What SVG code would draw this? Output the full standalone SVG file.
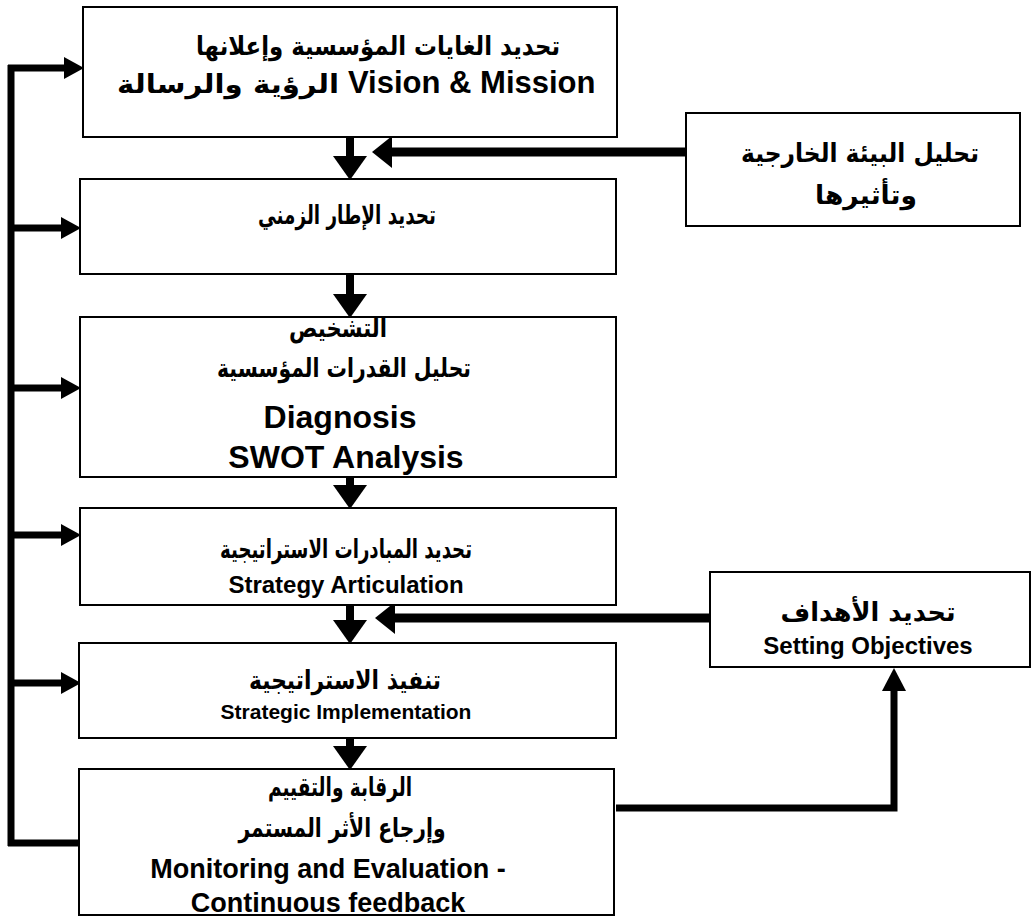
<svg xmlns="http://www.w3.org/2000/svg" width="1034" height="917" viewBox="0 0 1034 917">
  <defs>
    <style>
      .box { fill: #ffffff; stroke: #000000; stroke-width: 2; }
      .wire { fill: none; stroke: #000000; stroke-linecap: butt; stroke-linejoin: miter; }
      .ar { font-family: "DejaVu Sans", "Noto Sans", sans-serif; font-weight: bold; font-size: 26px; fill: #000; text-anchor: middle; }
      .en { font-family: "Liberation Sans", Arial, sans-serif; font-weight: bold; fill: #000; text-anchor: middle; }
      .lead { text-anchor: start; }
      .big { font-size: 32px; }
      .mid { font-size: 24px; }
      .small { font-size: 21px; }
      .large { font-size: 27px; }
    </style>
    <!-- arrowheads; the shaft stops one unit inside the head -->
    <marker id="headLoop" markerUnits="userSpaceOnUse" viewBox="0 0 20 22" markerWidth="20" markerHeight="22" refX="1" refY="11" orient="auto">
      <path d="M0,0 L20,11 L0,22 Z" fill="#000"/>
    </marker>
    <marker id="headDown" markerUnits="userSpaceOnUse" viewBox="0 0 24 34" markerWidth="24" markerHeight="34" refX="1" refY="17" orient="auto">
      <path d="M0,0 L24,17 L0,34 Z" fill="#000"/>
    </marker>
    <marker id="headSide" markerUnits="userSpaceOnUse" viewBox="0 0 20 32" markerWidth="20" markerHeight="32" refX="1" refY="16" orient="auto">
      <path d="M0,0 L20,16 L0,32 Z" fill="#000"/>
    </marker>
    <marker id="headUp" markerUnits="userSpaceOnUse" viewBox="0 0 23 24" markerWidth="23" markerHeight="24" refX="1" refY="12" orient="auto">
      <path d="M0,0 L23,12 L0,24 Z" fill="#000"/>
    </marker>
  </defs>

  <rect width="1034" height="917" fill="#ffffff"/>

  <!-- connectors -->
  <g id="connectors" class="wire" stroke="#000">
    <!-- feedback loop down the left side -->
    <path d="M11,65 V846" stroke-width="7"/>
    <path d="M8,843 H84" stroke-width="7"/>
    <path d="M8,68 H65" stroke-width="7" marker-end="url(#headLoop)"/>
    <path d="M8,228 H62" stroke-width="7" marker-end="url(#headLoop)"/>
    <path d="M8,388 H62" stroke-width="7" marker-end="url(#headLoop)"/>
    <path d="M8,535 H62" stroke-width="7" marker-end="url(#headLoop)"/>
    <path d="M8,683 H62" stroke-width="7" marker-end="url(#headLoop)"/>

    <!-- main flow, top to bottom -->
    <path d="M350,137 V157" stroke-width="8" marker-end="url(#headDown)"/>
    <path d="M350,274 V295" stroke-width="8" marker-end="url(#headDown)"/>
    <path d="M350,477 V486" stroke-width="8" marker-end="url(#headDown)"/>
    <path d="M350,605 V621" stroke-width="8" marker-end="url(#headDown)"/>
    <path d="M350,738 V747" stroke-width="8" marker-end="url(#headDown)"/>

    <!-- side inputs -->
    <path d="M687,152 H391" stroke-width="9" marker-end="url(#headSide)"/>
    <path d="M711,618 H394" stroke-width="9" marker-end="url(#headSide)"/>

    <!-- monitoring back to objectives -->
    <path d="M616,808 H894 V690" stroke-width="7" marker-end="url(#headUp)"/>
  </g>

  <g id="vision-mission">
    <rect class="box" x="83" y="7" width="534" height="130"/>
    <text class="ar" x="378" y="55" textLength="364" lengthAdjust="spacingAndGlyphs">تحديد الغايات المؤسسية وإعلانها</text>
    <text class="ar" x="228" y="93" font-size="27px" textLength="222" lengthAdjust="spacingAndGlyphs">الرؤية والرسالة</text>
    <text class="en lead" x="348" y="93" font-size="31px">Vision &amp; Mission</text>
  </g>

  <g id="time-frame">
    <rect class="box" x="80" y="179" width="536" height="95"/>
    <text class="ar" x="347" y="224" textLength="178" lengthAdjust="spacingAndGlyphs">تحديد الإطار الزمني</text>
  </g>

  <g id="diagnosis">
    <rect class="box" x="80" y="317" width="536" height="160"/>
    <text class="ar" x="338" y="337" textLength="98" lengthAdjust="spacingAndGlyphs">التشخيص</text>
    <text class="ar" x="344" y="377" textLength="254" lengthAdjust="spacingAndGlyphs">تحليل القدرات المؤسسية</text>
    <text class="en big" x="340" y="428">Diagnosis</text>
    <text class="en big" x="346" y="468">SWOT Analysis</text>
  </g>

  <g id="strategy-articulation">
    <rect class="box" x="80" y="508" width="536" height="97"/>
    <text class="ar" x="346" y="558" textLength="252" lengthAdjust="spacingAndGlyphs">تحديد المبادرات الاستراتيجية</text>
    <text class="en mid" x="346" y="593">Strategy Articulation</text>
  </g>

  <g id="implementation">
    <rect class="box" x="79" y="643" width="537" height="95"/>
    <text class="ar" x="345" y="689" textLength="192" lengthAdjust="spacingAndGlyphs">تنفيذ الاستراتيجية</text>
    <text class="en small" x="346" y="719">Strategic Implementation</text>
  </g>

  <g id="monitoring">
    <rect class="box" x="79" y="769" width="535" height="146"/>
    <text class="ar" x="340" y="796" textLength="144" lengthAdjust="spacingAndGlyphs">الرقابة والتقييم</text>
    <text class="ar" x="342" y="837" textLength="207" lengthAdjust="spacingAndGlyphs">وإرجاع الأثر المستمر</text>
    <text class="en large" x="328" y="878">Monitoring and Evaluation -</text>
    <text class="en large" x="328" y="912">Continuous feedback</text>
  </g>

  <g id="external-environment">
    <rect class="box" x="686" y="113" width="334" height="113"/>
    <text class="ar" x="860" y="162" font-size="27px" textLength="238" lengthAdjust="spacingAndGlyphs">تحليل البيئة الخارجية</text>
    <text class="ar" x="866" y="204" font-size="27px" textLength="102" lengthAdjust="spacingAndGlyphs">وتأثيرها</text>
  </g>

  <g id="setting-objectives">
    <rect class="box" x="710" y="572" width="320" height="95"/>
    <text class="ar" x="868" y="621" textLength="175" lengthAdjust="spacingAndGlyphs">تحديد الأهداف</text>
    <text class="en mid" x="868" y="654">Setting Objectives</text>
  </g>
</svg>
